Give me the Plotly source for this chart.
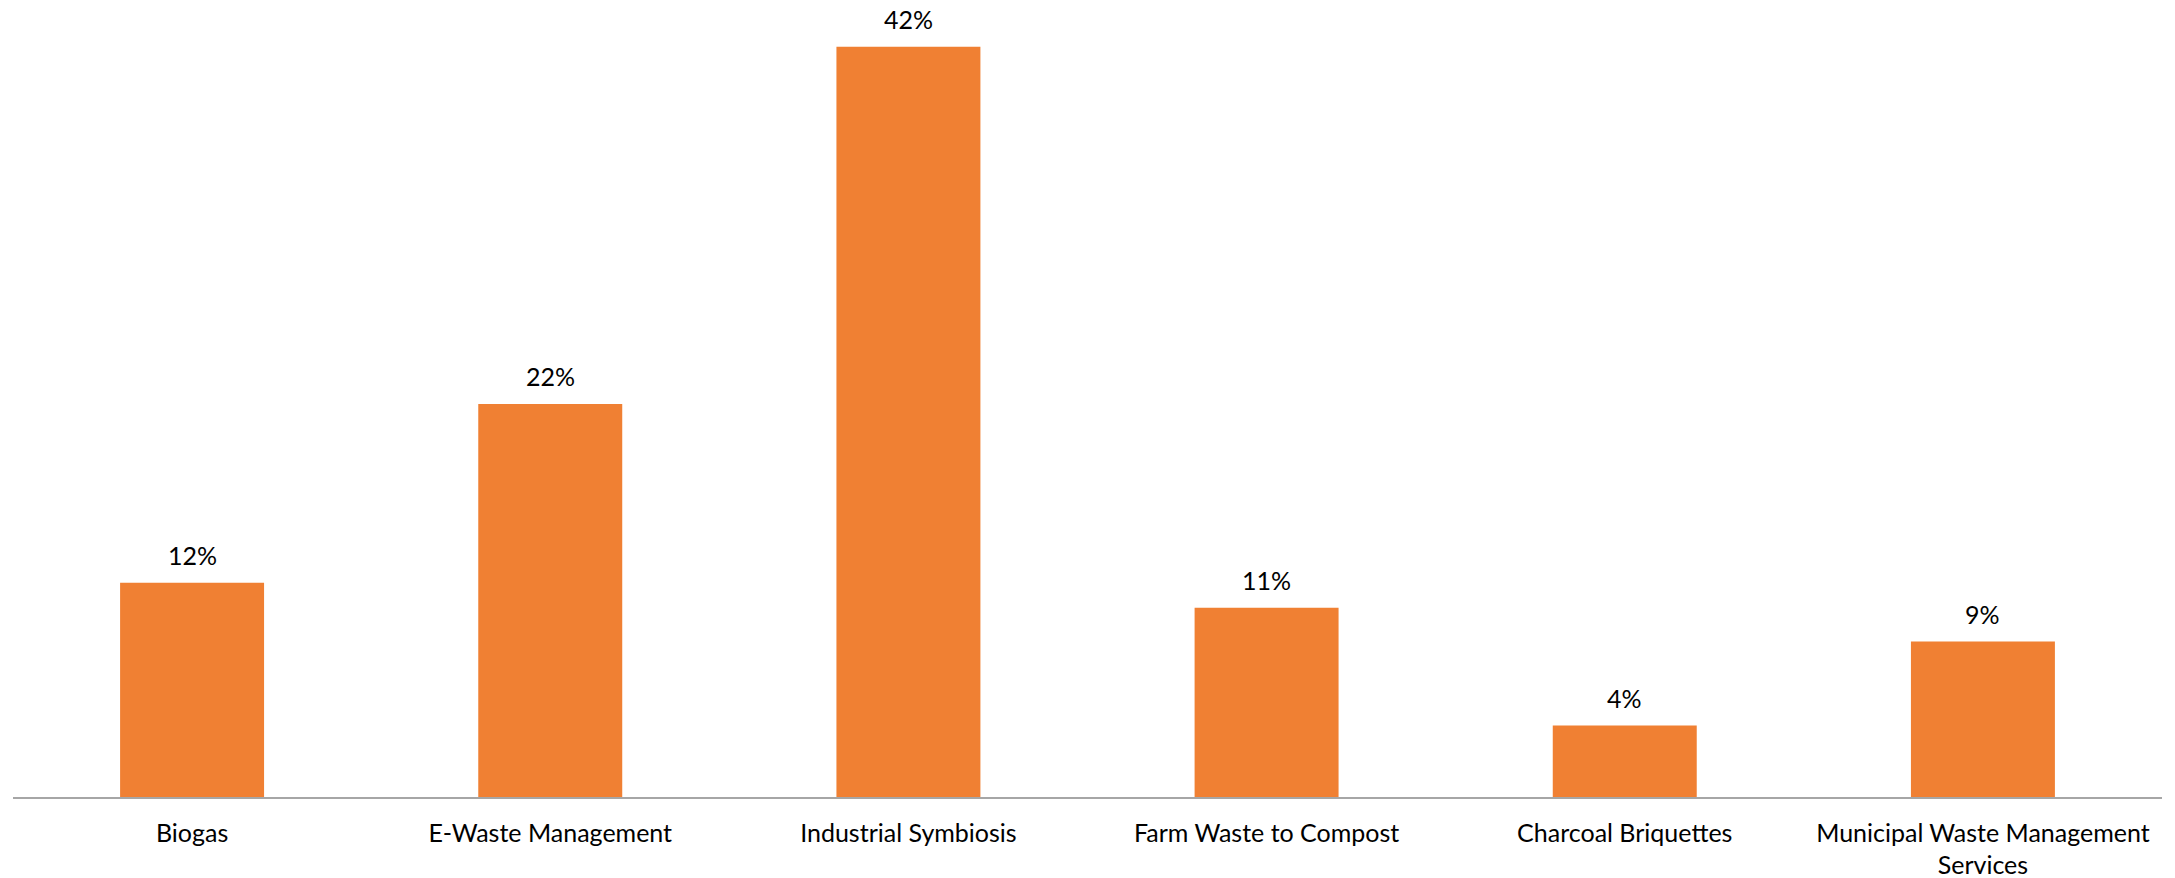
import plotly.graph_objects as go

categories = [
    "Biogas",
    "E-Waste Management",
    "Industrial Symbiosis",
    "Farm Waste to Compost",
    "Charcoal Briquettes",
    "Municipal Waste Management<br>Services",
]
shares = [0.12, 0.22, 0.42, 0.106, 0.04, 0.087]
labels = ["12%", "22%", "42%", "11%", "4%", "9%"]

FONT = "Lato"
BAR_COLOR = "#F08033"

fig = go.Figure()
fig.add_trace(go.Bar(
    x=categories,
    y=shares,
    marker=dict(color=BAR_COLOR, line=dict(width=0)),
    hoverinfo="skip",
))

for c, v, t in zip(categories, shares, labels):
    fig.add_annotation(
        x=c, y=v, text=t, showarrow=False,
        xanchor="center", yanchor="bottom", yshift=11,
        font=dict(family=FONT, size=25, color="#000000"),
    )

fig.update_layout(
    width=2175, height=878,
    margin=dict(l=13, r=13, t=11, b=81, autoexpand=False),
    paper_bgcolor="white", plot_bgcolor="white",
    bargap=0.598,
    showlegend=False,
    font=dict(family=FONT, size=25, color="#000000"),
)
fig.update_xaxes(
    automargin=False,
    showline=True, linecolor="#A6A6A6", linewidth=1.5,
    showgrid=False, zeroline=False, ticks="",
    ticklabelstandoff=13,
    tickfont=dict(family=FONT, size=25, color="#000000"),
)
fig.update_yaxes(
    automargin=False,
    range=[0, 0.44], visible=False, showgrid=False, zeroline=False,
)

fig.write_html(
    "out.html",
    config={"displayModeBar": False},
    post_script="document.body.style.margin='0';document.body.style.overflow='hidden';",
)
